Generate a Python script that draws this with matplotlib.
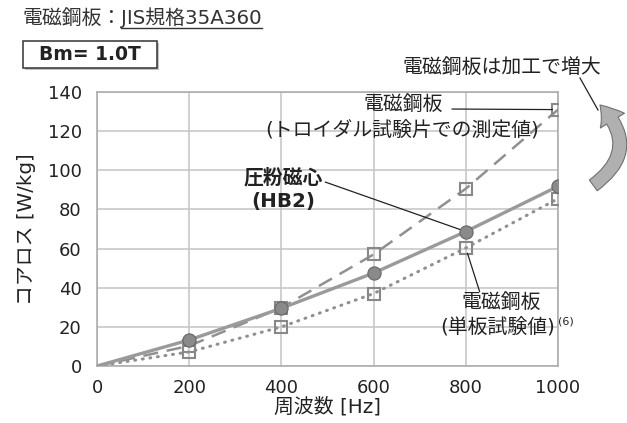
import matplotlib
matplotlib.use("Agg")
import matplotlib.pyplot as plt
from matplotlib.patches import FancyArrowPatch, Rectangle
from matplotlib.lines import Line2D

plt.rcParams['font.family'] = ['DejaVu Sans', 'Noto Sans CJK JP']

# Data
freq = [0, 200, 400, 600, 800, 1000]
powder_core_hb2 = [0, 13.3, 29.5, 47.5, 68.7, 91.8]
steel_toroidal = [0, 10.3, 29.8, 57.0, 90.6, 131.0]
steel_single_sheet = [0, 7.2, 20.0, 37.0, 60.3, 85.5]
x_ticks = [0, 200, 400, 600, 800, 1000]
y_ticks = [0, 20, 40, 60, 80, 100, 120, 140]

W, H = 627, 423
FS = 14.3
TXT = '#222222'
fig = plt.figure(figsize=(W / 100, H / 100), dpi=100)


def fx(px):
    return px / W


def fy(py):
    return 1 - py / H


ax = fig.add_axes([fx(97), fy(366), fx(558) - fx(97), fy(92) - fy(366)])
ax.set_xlim(0, 1000)
ax.set_ylim(0, 140)
ax.set_xticks(x_ticks)
ax.set_yticks(y_ticks)
ax.tick_params(length=0, labelsize=13, colors=TXT)
ax.tick_params(axis='y', pad=11)
ax.tick_params(axis='x', pad=9)
ax.grid(True, color='#c4c4c4', lw=1.1)
ax.set_axisbelow(True)
for s in ax.spines.values():
    s.set_color('#a8a8a8')
    s.set_linewidth(1.1)

marks = list(range(1, len(freq)))
ax.plot(freq, steel_toroidal, color='#909090', lw=1.8, ls=(0, (6, 3.5)),
        marker='s', markevery=marks, ms=8, mfc='none', mec='#888888', mew=1.5, zorder=3)
ax.plot(freq, steel_single_sheet, color='#909090', lw=2.2, ls=(0, (0.3, 2.2)),
        dash_capstyle='round', marker='s', markevery=marks, ms=8, mfc='none',
        mec='#888888', mew=1.5, zorder=3)
ax.plot(freq, powder_core_hb2, color='#9a9a9a', lw=2.4,
        marker='o', markevery=marks, ms=9.5, mfc='#8a8a8a', mec='#666666', mew=0.8, zorder=4)

ax.set_xlabel('周波数 [Hz]', fontsize=FS, color=TXT, labelpad=0)
ax.set_ylabel('コアロス [W/kg]', fontsize=FS, color=TXT, labelpad=8)

# Annotations on the chart
ax.text(664, 133.5, '電磁鋼板', ha='center', va='center', fontsize=FS, color=TXT)
ax.text(663, 120, '(トロイダル試験片での測定値)', ha='center', va='center', fontsize=FS, color=TXT)
ax.annotate('', xy=(1000, steel_toroidal[-1]), xytext=(770, 131.3),
            arrowprops=dict(arrowstyle='-', color=TXT, lw=0.9, shrinkA=0, shrinkB=4))

ax.text(404, 96.5, '圧粉磁心', ha='center', va='center', fontsize=FS,
        fontweight='bold', color=TXT)
ax.text(404, 84, '(HB2)', ha='center', va='center', fontsize=FS,
        fontweight='bold', color=TXT)
ax.annotate('', xy=(800, powder_core_hb2[4]), xytext=(495, 94),
            arrowprops=dict(arrowstyle='-', color=TXT, lw=0.9, shrinkA=0, shrinkB=4))

ax.text(877, 32.3, '電磁鋼板', ha='center', va='center', fontsize=FS, color=TXT)
ax.text(870, 19.5, '(単板試験値)', ha='center', va='center', fontsize=FS, color=TXT)
ax.text(1000, 22.5, '(6)', ha='left', va='center', fontsize=8, color=TXT)
ax.annotate('', xy=(800, steel_single_sheet[4]), xytext=(830, 38),
            arrowprops=dict(arrowstyle='-', color=TXT, lw=0.9, shrinkA=0, shrinkB=4))

# Header text with underlined standard name
t1 = fig.text(fx(22), fy(18), '電磁鋼板：', ha='left', va='center', fontsize=FS, color='#333333')
fig.canvas.draw()
r = fig.canvas.get_renderer()
bb = t1.get_window_extent(r)
t2 = fig.text(bb.x1 / W, fy(18), 'JIS規格35A360', ha='left', va='center', fontsize=FS,
              color='#333333')
bb2 = t2.get_window_extent(r)
fig.add_artist(Line2D([bb2.x0 / W, bb2.x1 / W], [fy(28.5), fy(28.5)],
                      transform=fig.transFigure, color='#333333', lw=1))

# Flux density box with shadow
fig.add_artist(Rectangle((fx(25), fy(70)), fx(157) - fx(23), fy(41) - fy(68),
                         transform=fig.transFigure, facecolor='#9a9a9a', edgecolor='none',
                         alpha=0.6))
fig.add_artist(Rectangle((fx(23), fy(68)), fx(157) - fx(23), fy(41) - fy(68),
                         transform=fig.transFigure, facecolor='white', edgecolor='#333333',
                         lw=1.1))
fig.text(fx(90), fy(54.5), 'Bm= 1.0T', ha='center', va='center', fontsize=13.5,
         fontweight='bold', color=TXT)

# Note that processing increases steel loss, with curved arrow
fig.text(fx(502), fy(67), '電磁鋼板は加工で増大', ha='center', va='center', fontsize=FS, color=TXT)
fig.add_artist(Line2D([fx(580), fx(598)], [fy(78), fy(110)], transform=fig.transFigure,
                      color=TXT, lw=0.9))
arrow = FancyArrowPatch((fx(591), fy(187)), (fx(598), fy(103)), transform=fig.transFigure,
                        connectionstyle='arc3,rad=0.6',
                        arrowstyle='simple,head_width=1.7,head_length=1.2,tail_width=0.8',
                        mutation_scale=12, facecolor='#b0b0b0', edgecolor='#707070', lw=0.8)
fig.add_artist(arrow)

fig.savefig('out.png', dpi=100)
